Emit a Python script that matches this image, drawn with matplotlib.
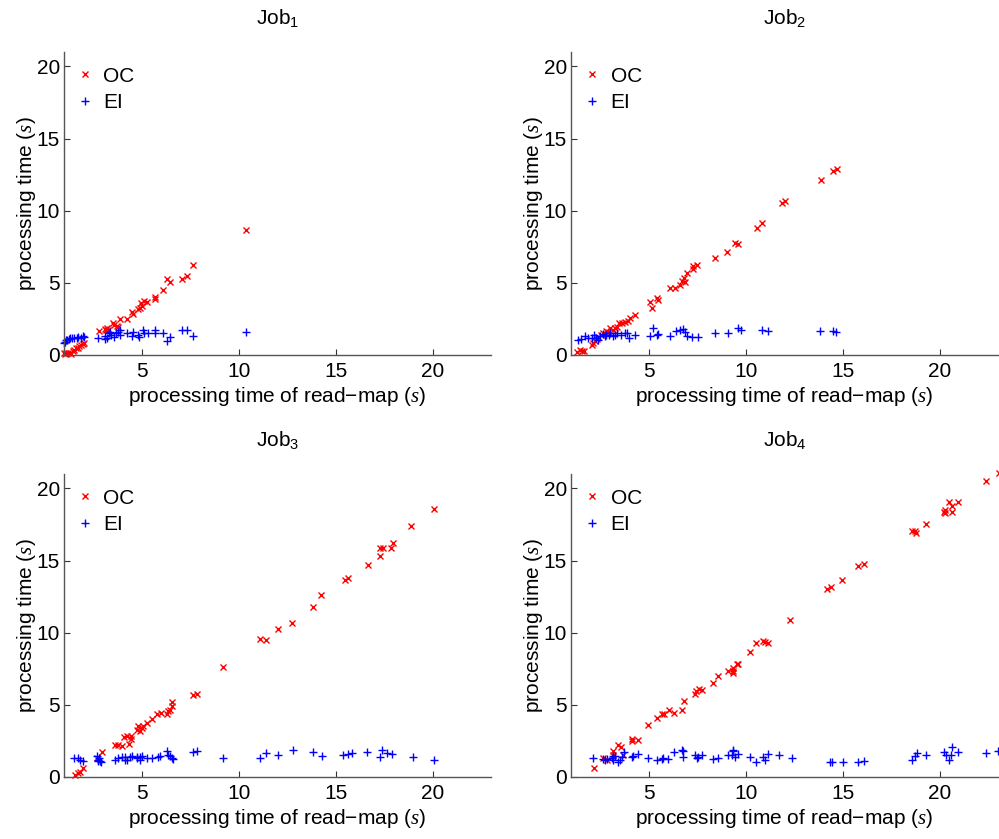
import matplotlib
matplotlib.use('Agg')
import matplotlib.pyplot as plt

plt.rcParams['font.family'] = ['Liberation Sans', 'DejaVu Sans']
plt.rcParams['mathtext.fontset'] = 'custom'
plt.rcParams['mathtext.rm'] = 'Liberation Sans'
plt.rcParams['mathtext.it'] = 'Liberation Serif:italic'

# ---- Job 1 ----
job1_oc_x = [1.0, 1.05, 1.1, 1.2, 1.3, 1.35, 1.45, 1.5, 1.6, 1.7, 1.8, 1.9, 2.0, 2.05,
             2.8, 3.1, 3.15, 3.2, 3.25, 3.55, 3.6, 3.75, 3.8, 3.9, 4.25, 4.5, 4.55, 4.8,
             4.9, 5.0, 4.95, 5.1, 5.3, 5.7, 5.7, 6.1, 6.3, 6.45, 7.1, 7.35, 7.65, 10.4]
job1_oc_y = [0.1, 0.05, 0.1, 0.1, 0.15, 0.05, 0.3, 0.35, 0.45, 0.5, 0.6, 0.7, 0.75, 0.85,
             1.65, 1.8, 1.7, 1.85, 1.75, 2.2, 2.1, 2.0, 1.95, 2.5, 2.5, 3.0, 2.85, 3.15,
             3.25, 3.4, 3.6, 3.75, 3.7, 4.0, 3.85, 4.5, 5.25, 5.05, 5.25, 5.5, 6.25, 8.65]
job1_ei_x = [1.0, 1.05, 1.1, 1.15, 1.25, 1.3, 1.4, 1.5, 1.65, 1.75, 1.9, 2.0, 2.05,
             2.75, 3.1, 3.1, 3.2, 3.3, 3.35, 3.4, 3.6, 3.7, 3.8, 3.9, 3.9,
             4.25, 4.5, 4.55, 4.8, 4.85, 5.05, 5.1, 5.35, 5.7, 5.7, 6.1, 6.3, 6.45,
             7.1, 7.35, 7.65, 10.4]
job1_ei_y = [0.8, 0.9, 1.0, 1.05, 1.1, 1.15, 1.2, 1.15, 1.2, 1.25, 1.2, 1.3, 1.25,
             1.15, 1.1, 1.3, 1.2, 1.5, 1.6, 1.4, 1.25, 1.5, 1.6, 1.4, 1.75,
             1.55, 1.3, 1.6, 1.4, 1.25, 1.75, 1.5, 1.5, 1.75, 1.55, 1.5, 0.95, 1.25,
             1.75, 1.7, 1.3, 1.6]

# ---- Job 2 ----
job2_oc_x = [1.3, 1.45, 1.55, 1.65, 2.07, 2.15, 2.24, 2.35, 2.41, 2.55, 2.63, 2.8, 2.9,
             3.01, 3.15, 3.27, 3.39, 3.49, 3.61, 3.78, 3.95, 4.04, 4.3,
             5.07, 5.16, 5.42, 5.47, 6.1, 6.36, 6.62, 6.71, 6.82, 6.88, 6.96, 7.27, 7.3,
             7.51, 8.42, 9.04, 9.45, 9.6, 10.59, 10.85, 11.86, 12.03, 13.87, 14.52, 14.69]
job2_oc_y = [0.23, 0.35, 0.25, 0.3, 0.69, 0.85, 0.99, 1.1, 1.23, 1.35, 1.5, 1.69, 1.6,
             1.85, 1.75, 1.85, 1.92, 2.2, 2.24, 2.31, 2.38, 2.55, 2.78,
             3.7, 3.24, 3.94, 3.82, 4.67, 4.63, 4.86, 5.14, 5.32, 5.02, 5.67, 5.95, 6.13,
             6.25, 6.74, 7.15, 7.78, 7.7, 8.82, 9.17, 10.53, 10.69, 12.1, 12.73, 12.9]
job2_ei_x = [1.38, 1.5, 1.72, 1.9, 2.07, 2.2, 2.3, 2.41, 2.5, 2.63, 2.75, 2.8, 2.95,
             3.01, 3.15, 3.27, 3.39, 3.6, 3.78, 3.9, 4.0, 4.3,
             5.07, 5.21, 5.42, 5.47, 6.1, 6.41, 6.6, 6.76, 6.88, 6.96, 7.22, 7.56,
             8.42, 9.09, 9.6, 9.76, 10.85, 11.15, 13.84, 14.5, 14.66]
job2_ei_y = [1.04, 1.1, 1.32, 1.2, 1.2, 1.35, 1.2, 1.05, 1.3, 1.45, 1.3, 1.4, 1.35,
             1.5, 1.3, 1.35, 1.5, 1.35, 1.5, 1.55, 1.2, 1.4,
             1.32, 1.85, 1.39, 1.45, 1.32, 1.69, 1.75, 1.78, 1.62, 1.32, 1.23, 1.23,
             1.53, 1.53, 1.88, 1.74, 1.74, 1.67, 1.67, 1.67, 1.6]

# ---- Job 3 ----
job3_oc_x = [1.57, 1.74, 1.82, 1.96, 2.68, 2.94, 3.63, 3.8, 3.97, 4.09, 4.23, 4.37,
             4.45, 4.47, 4.78, 4.83, 4.92, 5.0, 5.09, 5.26, 5.52, 5.81, 5.98, 6.32,
             6.38, 6.45, 6.55, 6.57, 7.67, 7.84, 9.18, 11.1, 11.41, 12.03, 12.77, 13.85,
             14.26, 15.48, 15.65, 16.67, 17.26, 17.29, 17.46, 17.86, 17.93, 18.89, 20.07]
job3_oc_y = [0.14, 0.3, 0.37, 0.6, 1.3, 1.72, 2.23, 2.23, 2.16, 2.77, 2.81, 2.3,
             2.81, 2.6, 3.28, 3.56, 3.16, 3.4, 3.56, 3.74, 4.05, 4.33, 4.44, 4.33,
             4.56, 4.67, 4.95, 5.19, 5.65, 5.77, 7.65, 9.56, 9.51, 10.26, 10.65, 11.81,
             12.58, 13.63, 13.82, 14.72, 15.84, 15.3, 15.84, 15.84, 16.19, 17.38, 18.58]
job3_ei_x = [1.52, 1.74, 1.82, 1.99, 2.7, 2.75, 2.8, 2.85, 2.9, 2.75,
             3.63, 3.8, 3.97, 4.14, 4.14, 4.23, 4.4, 4.49, 4.75, 4.75, 4.92, 5.0, 4.92,
             5.26, 5.52, 5.86, 5.95, 6.32, 6.38, 6.46, 6.55, 6.6,
             7.67, 7.84, 9.18, 11.1, 11.41, 12.05, 12.79, 13.85, 14.28, 15.4, 15.66,
             15.85, 16.62, 17.29, 17.39, 17.65, 17.9, 18.99, 20.07]
job3_ei_y = [1.3, 1.3, 1.19, 1.07, 1.47, 1.19, 1.3, 1.07, 1.0, 1.07,
             1.19, 1.3, 1.37, 1.19, 1.37, 1.19, 1.37, 1.42, 1.3, 1.37, 1.37, 1.42, 1.19,
             1.3, 1.3, 1.37, 1.42, 1.77, 1.54, 1.47, 1.3, 1.23,
             1.7, 1.77, 1.3, 1.3, 1.65, 1.54, 1.88, 1.7, 1.47, 1.54, 1.6,
             1.67, 1.74, 1.4, 1.88, 1.67, 1.6, 1.4, 1.19]

# ---- Job 4 ----
job4_oc_x = [2.2, 2.66, 2.84, 3.15, 3.16, 3.44, 3.56, 3.7, 4.13, 4.13, 4.47,
             4.99, 5.42, 5.68, 5.8, 6.07, 6.31, 6.7, 6.82, 7.39, 7.42, 7.61, 7.73,
             8.3, 8.59, 9.08, 9.33, 9.33, 9.33, 9.54, 9.62, 10.23, 10.52, 10.91, 11.0,
             11.14, 12.29, 14.2, 14.4, 14.95, 15.81, 16.1, 18.56, 18.73, 18.78, 19.28,
             20.23, 20.28, 20.28, 20.45, 20.62, 20.62, 20.96, 22.39, 23.06]
job4_oc_y = [0.65, 1.3, 1.14, 1.77, 1.54, 2.23, 2.07, 1.54, 2.63, 2.47, 2.58,
             3.63, 4.1, 4.33, 4.33, 4.63, 4.44, 4.67, 5.26, 5.72, 5.95, 6.07, 6.02,
             6.54, 7.0, 7.35, 7.58, 7.35, 7.19, 7.82, 7.82, 8.67, 9.28, 9.44, 9.33,
             9.28, 10.89, 13.05, 13.2, 13.63, 14.6, 14.75, 17.08, 17.08, 16.89, 17.54,
             18.4, 18.28, 18.51, 19.03, 18.79, 18.35, 19.05, 20.5, 21.1]
job4_ei_x = [2.15, 2.67, 2.75, 2.84, 3.1, 3.15, 3.18, 3.27, 3.44, 3.53, 3.61, 3.73,
             4.13, 4.18, 4.47, 4.98, 5.42, 5.68, 5.76, 6.02, 6.31, 6.71, 6.76, 6.79,
             7.39, 7.48, 7.56, 7.74, 8.3, 8.59, 9.08, 9.28, 9.33, 9.37, 9.45, 9.62,
             10.23, 10.52, 10.91, 11.0, 11.14, 11.74, 12.38,
             14.35, 14.44, 15.0, 15.81, 16.1, 18.56, 18.73, 18.82, 19.3,
             20.24, 20.33, 20.45, 20.57, 20.62, 20.96, 22.39, 23.0]
job4_ei_y = [1.3, 1.23, 1.14, 1.23, 1.3, 1.42, 1.19, 1.42, 1.0, 1.19, 1.37, 1.7,
             1.37, 1.42, 1.6, 1.3, 1.19, 1.23, 1.3, 1.23, 1.7, 1.88, 1.77, 1.37,
             1.54, 1.3, 1.37, 1.54, 1.23, 1.3, 1.49, 1.54, 1.88, 1.77, 1.37, 1.6,
             1.37, 1.0, 1.37, 1.19, 1.6, 1.54, 1.3,
             1.0, 1.0, 1.0, 1.0, 1.12, 1.14, 1.42, 1.65, 1.49,
             1.72, 1.54, 1.19, 1.54, 2.05, 1.7, 1.65, 1.77]

jobs = [
    ('Job$_1$', job1_oc_x, job1_oc_y, job1_ei_x, job1_ei_y),
    ('Job$_2$', job2_oc_x, job2_oc_y, job2_ei_x, job2_ei_y),
    ('Job$_3$', job3_oc_x, job3_oc_y, job3_ei_x, job3_ei_y),
    ('Job$_4$', job4_oc_x, job4_oc_y, job4_ei_x, job4_ei_y),
]

fig = plt.figure(figsize=(9.99, 8.39), dpi=100)
lefts = [0.064, 0.5716, 0.064, 0.5716]
bottoms = [0.577, 0.577, 0.074, 0.074]
w, h = 0.4274, 0.361

for i, (title, ox, oy, ex, ey) in enumerate(jobs):
    ax = fig.add_axes([lefts[i], bottoms[i], w, h])
    ax.plot(ox, oy, 'x', color='red', markersize=4, markeredgewidth=1.0, label='OC', clip_on=False)
    ax.plot(ex, ey, '+', color='blue', markersize=6, markeredgewidth=1.0, label='EI', clip_on=False)
    ax.set_xlim(1, 23)
    ax.set_ylim(0, 21)
    ax.set_xticks([5, 10, 15, 20])
    ax.set_yticks([0, 5, 10, 15, 20])
    for s in ['top', 'right']:
        ax.spines[s].set_visible(False)
    for s in ['left', 'bottom']:
        ax.spines[s].set_color('#555555')
        ax.spines[s].set_linewidth(1.0)
    ax.tick_params(direction='in', length=4, labelsize=15, color='#333333')
    ax.tick_params(axis='x', pad=5)
    ax.tick_params(axis='y', pad=3)
    ax.set_title(title, fontsize=15, pad=20)
    ax.set_xlabel('processing time of read\u2212map ($\\mathit{s}$)', fontsize=15, labelpad=3)
    ax.set_ylabel('processing time ($\\mathit{s}$)', fontsize=15, labelpad=-1)
    ax.legend(loc='upper left', frameon=False, fontsize=15, handlelength=1.0,
              handletextpad=0.4, borderaxespad=0.3, labelspacing=0.35,
              bbox_to_anchor=(-0.01, 1.0))

fig.savefig('out.png', dpi=100)
